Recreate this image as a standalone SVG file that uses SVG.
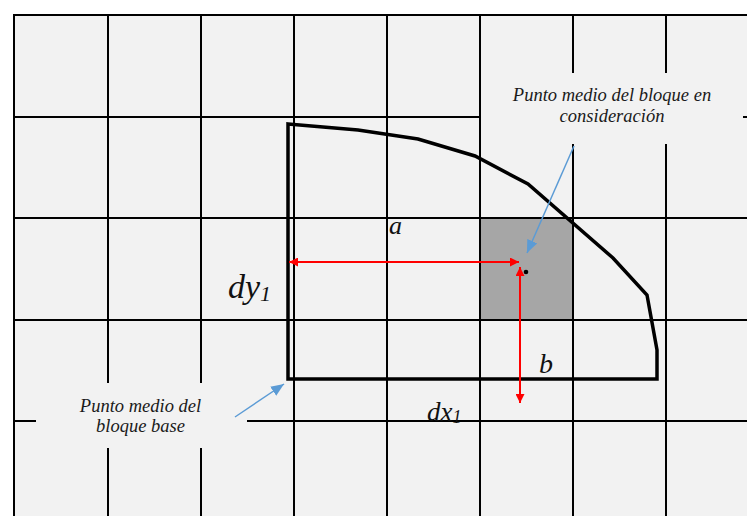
<svg xmlns="http://www.w3.org/2000/svg" width="747" height="516" viewBox="0 0 747 516">
<defs>
<style>
.grid line{stroke:#000;stroke-width:2}
.patch{fill:#f2f2f2}
.lbl{font-family:"Liberation Serif","Times New Roman",serif;font-style:italic;fill:#1a1a1a;text-anchor:middle;font-size:18.5px}
.var{font-family:"Liberation Serif","Times New Roman",serif;font-style:italic;fill:#111}
.red{stroke:#ff0000;stroke-width:2;fill:none}
.blue{stroke:#5b9bd5;stroke-width:1.5;fill:none}
</style>
<marker id="ra" viewBox="0 0 10 10" refX="10" refY="5" markerWidth="10" markerHeight="9" markerUnits="userSpaceOnUse" orient="auto-start-reverse"><path d="M0,0 L10,5 L0,10 Z" fill="#ff0000"/></marker>
<marker id="ba" viewBox="0 0 12 10" refX="12" refY="5" markerWidth="13" markerHeight="11" markerUnits="userSpaceOnUse" orient="auto"><path d="M0,0 L12,5 L0,10 Z" fill="#5b9bd5"/></marker>
</defs>
<rect x="0" y="0" width="747" height="516" fill="#fff"/>
<rect x="14" y="15" width="733" height="501" fill="#f2f2f2"/>
<g id="block-gray"><rect x="480" y="218" width="93" height="102" fill="#a6a6a6"/></g>
<g id="grid" class="grid">
<line x1="13" y1="15" x2="747" y2="15"/>
<line x1="14" y1="117" x2="747" y2="117"/>
<line x1="14" y1="218" x2="747" y2="218"/>
<line x1="14" y1="320" x2="747" y2="320"/>
<line x1="14" y1="421" x2="747" y2="421"/>
<line x1="14" y1="14" x2="14" y2="516"/>
<line x1="108" y1="15" x2="108" y2="516"/>
<line x1="201" y1="15" x2="201" y2="516"/>
<line x1="294" y1="15" x2="294" y2="516"/>
<line x1="387" y1="15" x2="387" y2="516"/>
<line x1="480" y1="15" x2="480" y2="516"/>
<line x1="573" y1="15" x2="573" y2="516"/>
<line x1="666" y1="15" x2="666" y2="516"/>
</g>
<rect class="patch" x="481" y="73" width="262" height="71"/>
<rect class="patch" x="36" y="383" width="211" height="65"/>
<g id="region"><polygon points="288,124 358,130 418,139 475,156 528,184 613,258 647,295 657,350 657,379 288,379" fill="none" stroke="#000" stroke-width="3.5" stroke-linejoin="miter"/></g>
<g id="point-consideracion"><circle cx="526" cy="272" r="2.3" fill="#000"/></g>
<g id="connectors">
<line class="red" x1="289" y1="262" x2="519" y2="262" marker-start="url(#ra)" marker-end="url(#ra)"/>
<line class="red" x1="520" y1="267" x2="520" y2="403" marker-start="url(#ra)" marker-end="url(#ra)"/>
<line class="blue" x1="574" y1="146" x2="527" y2="253" marker-end="url(#ba)"/>
<line class="blue" x1="235" y1="417" x2="284" y2="384" marker-end="url(#ba)"/>
</g>
<g id="label-consideracion">
<text class="lbl" x="612" y="101">Punto medio del bloque en</text>
<text class="lbl" x="612" y="122">consideración</text>
</g>
<g id="label-base">
<text class="lbl" x="140.5" y="412">Punto medio del</text>
<text class="lbl" x="140.5" y="432">bloque base</text>
</g>
<g id="var-a"><text class="var" x="389" y="234" font-size="26">a</text></g>
<g id="var-dy"><text class="var" x="228" y="298" font-size="34">dy<tspan font-size="22" dy="3">1</tspan></text></g>
<g id="var-b"><text class="var" x="539" y="373" font-size="28">b</text></g>
<g id="var-dx"><text class="var" x="427" y="421" font-size="27" fill="#333">dx<tspan font-size="18" dy="2">1</tspan></text></g>
</svg>
